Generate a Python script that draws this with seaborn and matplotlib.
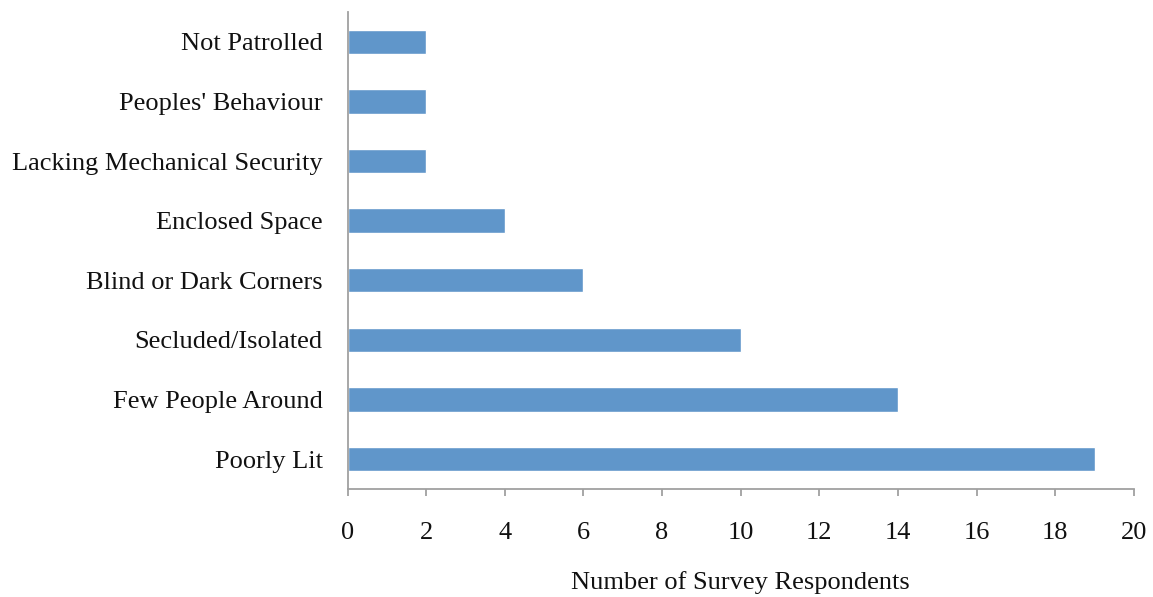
import matplotlib
matplotlib.use("Agg")
import matplotlib.pyplot as plt
import seaborn as sns
import pandas as pd

categories = [
    "Not Patrolled",
    "Peoples' Behaviour",
    "Lacking Mechanical Security",
    "Enclosed Space",
    "Blind or Dark Corners",
    "Secluded/Isolated",
    "Few People Around",
    "Poorly Lit",
]
respondents = [2, 2, 2, 4, 6, 10, 14, 19]
x_ticks = [0, 2, 4, 6, 8, 10, 12, 14, 16, 18, 20]

sns.set_style("white")
plt.rcParams["font.family"] = ["Liberation Serif", "DejaVu Serif"]

df = pd.DataFrame({"category": categories, "count": respondents})

fig = plt.figure(figsize=(11.53, 5.97), dpi=100)
ax = fig.add_axes([0.3014, 0.181, 0.9835 - 0.3014, 0.980 - 0.181])

sns.barplot(data=df, x="count", y="category", order=categories,
            orient="h", color="#6096CA", saturation=1, width=0.41, ax=ax)

ax.set_xlim(0, 20)
ax.set_ylim(7.5, -0.5)
ax.set_xticks(x_ticks)
ax.set_xticklabels([str(t) for t in x_ticks])
ax.set_ylabel("")
ax.set_xlabel("Number of Survey Respondents", fontsize=19, color="#111111", labelpad=19)

for side in ["top", "right"]:
    ax.spines[side].set_visible(False)
for side in ["left", "bottom"]:
    ax.spines[side].set_color("#A0A0A0")
    ax.spines[side].set_linewidth(1.3)

ax.tick_params(axis="y", length=0, pad=18, labelsize=19, labelcolor="#111111")
ax.tick_params(axis="x", length=5, width=1.3, color="#A0A0A0", direction="out",
               pad=19, labelsize=19, labelcolor="#111111", bottom=True)

fig.savefig("out.png", dpi=100)
